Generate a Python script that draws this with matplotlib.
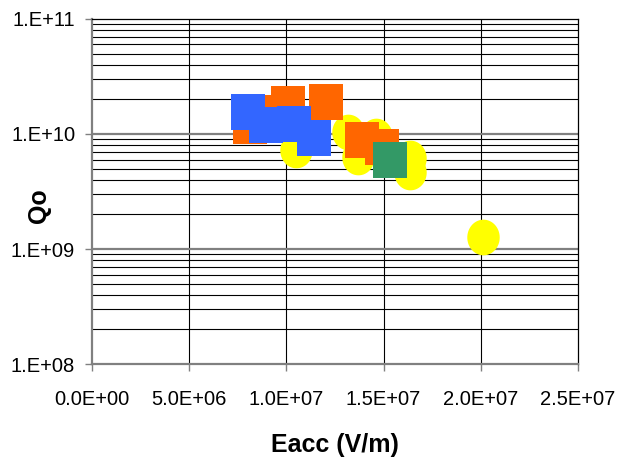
import matplotlib
matplotlib.use('Agg')
import matplotlib.pyplot as plt
from matplotlib.path import Path
import numpy as np

plt.rcParams['font.family'] = ['Liberation Sans', 'DejaVu Sans']

# yellow circles
yel_x = [1.049e7, 1.317e7, 1.461e7, 1.368e7, 1.636e7, 1.636e7, 2.011e7]
yel_q = [7.26e9, 1.04e10, 9.6e9, 6.31e9, 6.18e9, 4.68e9, 1.27e9]
# orange squares
org_x = [1.008e7, 8.13e6, 9.77e6, 1.204e7, 1.389e7, 1.492e7]
org_q = [1.81e10, 1.17e10, 1.52e10, 1.88e10, 8.87e9, 7.78e9]
# blue squares
blu_x = [8.02e6, 8.95e6, 1.039e7, 1.142e7]
blu_q = [1.55e10, 1.20e10, 1.22e10, 9.2e9]
# green square
grn_x = [1.533e7]
grn_q = [5.94e9]

x_ticks = [0, 5e6, 1e7, 1.5e7, 2e7, 2.5e7]
x_labels = ['0.0E+00', '5.0E+06', '1.0E+07', '1.5E+07', '2.0E+07', '2.5E+07']
y_ticks = [1e8, 1e9, 1e10, 1e11]
y_labels = ['1.E+08', '1.E+09', '1.E+10', '1.E+11']

# slightly tall ellipse / box, like the excel markers
t = np.linspace(0, 2*np.pi, 60)
ell = Path(np.column_stack([np.cos(t), 1.1*np.sin(t)]), closed=True)
box = Path([(-1, -1.05), (1, -1.05), (1, 1.05), (-1, 1.05), (-1, -1.05)], closed=True)

fig = plt.figure(figsize=(6.29, 4.62), dpi=100)
ax = fig.add_axes([0.146, 0.212, 0.773, 0.747])
ax.set_yscale('log')
ax.set_xlim(0, 2.5e7)
ax.set_ylim(1e8, 1e11)

# grid
for xv in x_ticks[1:-1]:
    ax.axvline(xv, color='black', lw=0.8, zorder=1)
for dec in [1e8, 1e9, 1e10]:
    for m in range(2, 10):
        ax.axhline(dec*m, color='black', lw=0.8, zorder=1)
for yv in y_ticks[1:-1]:
    ax.axhline(yv, color='#808080', lw=1.6, zorder=1)

ms = 660
ax.scatter(yel_x, yel_q, s=ms, marker=ell, color='#FFFF00', lw=0, zorder=3)
ax.scatter(org_x, org_q, s=ms, marker=box, color='#FF6600', lw=0, zorder=4)
ax.scatter(blu_x, blu_q, s=ms, marker=box, color='#3366FF', lw=0, zorder=5)
ax.scatter(grn_x, grn_q, s=ms, marker=box, color='#339966', lw=0, zorder=6)

ax.set_xticks(x_ticks)
ax.set_xticklabels(x_labels)
ax.set_yticks(y_ticks)
ax.set_yticklabels(y_labels)
ax.yaxis.set_minor_locator(matplotlib.ticker.NullLocator())
ax.tick_params(axis='both', direction='out', length=5, width=1, color='#808080',
               labelsize=14.5)
ax.tick_params(axis='x', pad=14)
ax.tick_params(axis='y', pad=7)

for s in ['left', 'bottom']:
    ax.spines[s].set_color('#808080')
    ax.spines[s].set_linewidth(1.6)
for s in ['top', 'right']:
    ax.spines[s].set_color('black')
    ax.spines[s].set_linewidth(0.9)

ax.set_xlabel('Eacc (V/m)', fontsize=18, fontweight='bold')
ax.xaxis.set_label_coords(0.5, -0.2)
ax.set_ylabel('Qo', fontsize=18, fontweight='bold')
ax.yaxis.set_label_coords(-0.085, 0.46)

plt.savefig('out.png', dpi=100)
